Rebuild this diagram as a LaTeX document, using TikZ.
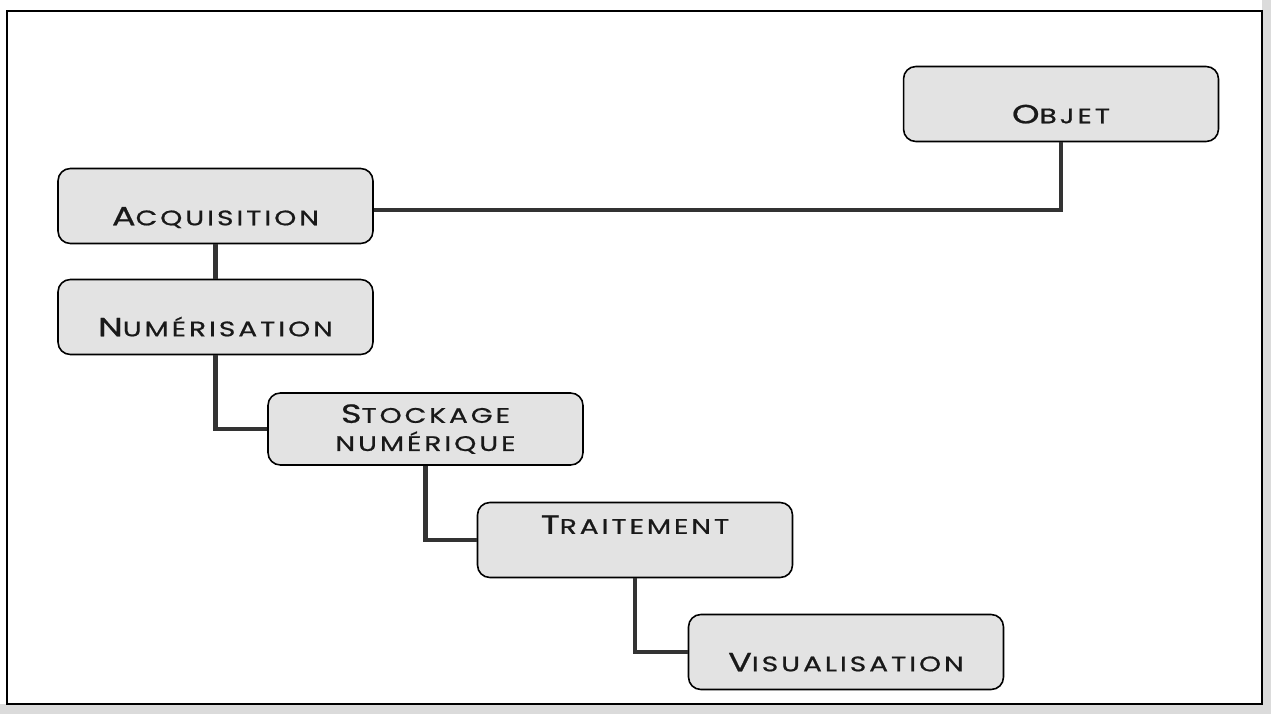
\documentclass[tikz,border=0pt]{standalone}
\usepackage{fontspec}
\setmainfont{Poppins}[LetterSpace=14, FakeStretch=1.33, FakeBold=0.8]
\newcommand\initcap[1]{{\fontsize{15}{17}\selectfont #1}}
\newcommand\restcap[1]{{\fontsize{12}{14}\selectfont #1}}
\begin{document}
\begin{tikzpicture}[x=0.02cm,y=-0.02cm,
  box/.style={draw=black, line width=0.9pt, rounded corners=7pt, fill=black!11,
    minimum width=6.3cm, minimum height=1.5cm, inner sep=2pt, text=black!90, align=center},
  low/.style={text height=22pt, text depth=0pt},
  high/.style={text height=0pt, text depth=7pt},
  link/.style={draw=black!80, line width=2.3pt}]
\useasboundingbox (0,0) rectangle (1271,714);
% scan margins
\fill[black!14] (0,704) rectangle (1271,714);
\fill[black!14] (1262,0) rectangle (1271,714);
\draw[line width=1.1pt] (7,11) rectangle (1262,704);
% boxes
\node[box, low]  (obj)  at (1061,104) {\initcap{O}\restcap{BJET}};
\node[box, low]  (acq)  at (215.5,206) {\initcap{A}\restcap{CQUISITION}};
\node[box, low]  (num)  at (215.5,317) {\initcap{N}\restcap{UMÉRISATION}};
\node[box, minimum height=1.44cm] (sto) at (425.5,429) {\initcap{S}\restcap{TOCKAGE}\\[4pt]\restcap{NUMÉRIQUE}};
\node[box, high] (tra)  at (635,540) {\initcap{T}\restcap{RAITEMENT}};
\node[box, low]  (vis)  at (846,652) {\initcap{V}\restcap{ISUALISATION}};
% connectors
\coordinate (c1) at (1061,210);
\draw[link] (acq.east |- c1) -- (c1) -- (obj.south);
\draw[link] (acq.south) -- (num.north);
\draw[link] (num.south) |- (sto.west);
\draw[link] (sto.south) |- (tra.west);
\draw[link] (tra.south) |- (vis.west);
\end{tikzpicture}
\end{document}
